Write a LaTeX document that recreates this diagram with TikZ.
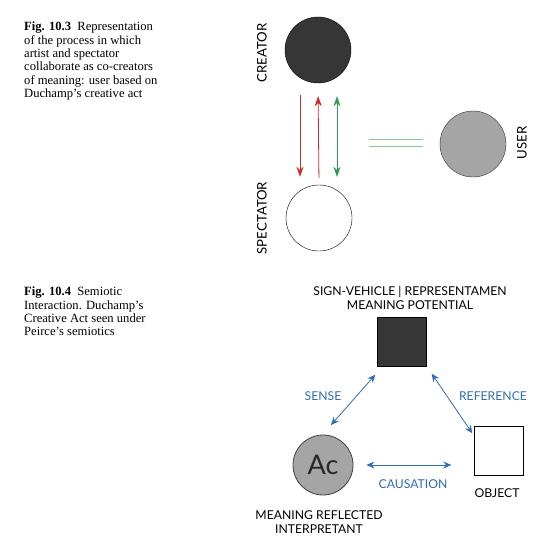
\documentclass[tikz,border=0pt]{standalone}
\usepackage{fontspec}
\setmainfont{Liberation Serif}
\newfontfamily\labelfont{Lato}
\usepackage{tikz}
\usetikzlibrary{arrows.meta}

\definecolor{darkfill}{HTML}{363636}
\definecolor{greyfill}{HTML}{A5A5A5}
\definecolor{arrowred}{HTML}{D3282B}
\definecolor{arrowgreen}{HTML}{2E9C4C}
\definecolor{linegreen}{HTML}{8CC79A}
\definecolor{semblue}{HTML}{2F6DB5}

\tikzset{
	caption/.style={anchor=north west, align=left, inner sep=0pt, font=\fontsize{12.6}{13.3}\selectfont},
	tag/.style={font=\labelfont\fontsize{12.2}{14.5}\selectfont, inner sep=0pt, align=center},
	sidetag/.style={tag, rotate=90, font=\labelfont\fontsize{13.2}{15}\selectfont},
	bluetag/.style={tag, text=semblue},
	ball/.style={shape=circle, draw=black, minimum size=66pt, inner sep=0pt},
	block/.style={shape=rectangle, draw=black, minimum size=49pt, inner sep=0pt},
	redarrow/.style={-{Stealth[length=10pt,width=7pt]}, arrowred, line width=0.8pt},
	greenarrow/.style={{Stealth[length=10pt,width=7pt]}-{Stealth[length=10pt,width=7pt]}, arrowgreen, line width=0.8pt},
	bluearrow/.style={{Stealth[length=8pt,width=7pt]}-{Stealth[length=8pt,width=7pt]}, semblue, line width=0.8pt}
}

\begin{document}
\begin{tikzpicture}[x=1pt, y=-1pt]
	
	\useasboundingbox (0, 0) rectangle (552, 555);
	
	% captions
	\node[caption] (cap3) at (24, 22) {\textbf{Fig. 10.3}\enspace Representation\\of the process in which\\artist and spectator\\collaborate as co-creators\\of meaning: user based on\\Duchamp’s creative act};
	\node[caption] (cap4) at (24, 287) {\textbf{Fig. 10.4}\enspace Semiotic\\Interaction. Duchamp’s\\Creative Act seen under\\Peirce’s semiotics};
	
	% fig 10.3
	\node[ball, fill=darkfill] (creator) at (318, 50) {};
	\node[ball, fill=white] (spectator) at (319, 218) {};
	\node[ball, fill=greyfill, draw=black!80] (user) at (473, 144) {};
	\coordinate (eq) at (369, 143);
	
	\node[sidetag] (creatorlbl) at (262, 53) {CREATOR};
	\node[sidetag] (spectatorlbl) at (262, 218) {SPECTATOR};
	\node[sidetag] (userlbl) at (522, 143) {USER};
	
	\path[redarrow, shorten <=12pt, shorten >=8pt] ([xshift=-18pt]creator.south) edge ([xshift=-19pt]spectator.north);
	\path[redarrow, shorten <=7pt, shorten >=13pt] (spectator.north) edge (creator.south);
	\path[greenarrow, shorten <=8pt, shorten >=13pt] ([xshift=18pt]spectator.north) edge ([xshift=19pt]creator.south);
	\draw[linegreen, line width=0.9pt, double=white, double distance=6pt, shorten >=17pt] (eq) -- (eq -| user.west);
	
	% fig 10.4
	\node[block, fill=darkfill] (sign) at (402, 342) {};
	\node[block, fill=white] (object) at (499, 451) {};
	\node[ball, minimum size=60pt, fill=greyfill, draw=black!75, line width=0.8pt] (ac) at (323, 465) {\labelfont\fontsize{27}{27}\selectfont\color{black!85}Ac};
	
	\node[tag] (signlbl) at (410, 298) {SIGN-VEHICLE | REPRESENTAMEN\\MEANING POTENTIAL};
	\node[tag] (objectlbl) at (497, 493) {OBJECT};
	\node[tag] (aclbl) at (319, 522) {MEANING REFLECTED\\INTERPRETANT};
	\node[bluetag] (sense) at (323, 396) {SENSE};
	\node[bluetag] (reference) at (493, 396) {REFERENCE};
	\node[bluetag] (causation) at (413, 484) {CAUSATION};
	
	\path[bluearrow] ([shift={(8, -40)}]ac.center) edge ([shift={(-2, 8)}]sign.south west);
	\path[bluearrow] ([shift={(5, 7)}]sign.south east) edge ([shift={(-2, 7)}]object.north west);
	\path[bluearrow, shorten <=13pt, shorten >=23pt] (ac.east) edge (ac.east -| object.west);
	
\end{tikzpicture}
\end{document}
